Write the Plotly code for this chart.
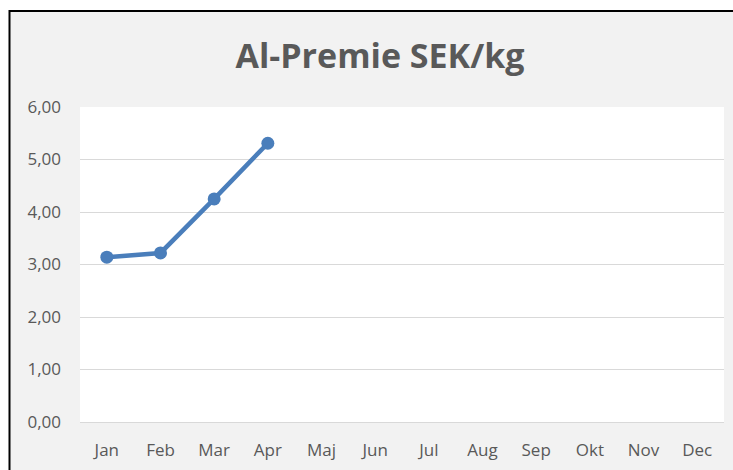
import plotly.graph_objects as go

months = ["Jan", "Feb", "Mar", "Apr", "Maj", "Jun", "Jul", "Aug", "Sep", "Okt", "Nov", "Dec"]
premie = [3.14, 3.22, 4.25, 5.31, None, None, None, None, None, None, None, None]
yticks = [0, 1, 2, 3, 4, 5, 6]

fig = go.Figure()
fig.add_trace(go.Scatter(
    x=months, y=premie, mode="lines+markers",
    line=dict(color="#4a7ebb", width=4.5),
    marker=dict(color="#4a7ebb", size=13),
    connectgaps=False, hoverinfo="skip", showlegend=False,
))

W, H = 733, 470
L, R, T, B = 80, 9, 107, 48
pw, ph = W - L - R, H - T - B

def px2x(px):
    return (px - L) / pw

def py2y(py):
    return (H - B - py) / ph

fig.update_layout(
    width=W, height=H,
    margin=dict(l=L, r=R, t=T, b=B),
    paper_bgcolor="white",
    plot_bgcolor="white",
    separators=",.",
    font=dict(family="Open Sans, Noto Sans, sans-serif", color="#595959", size=17),
    title=dict(text="<b>Al-Premie SEK/kg</b>", x=380 / W, xanchor="center",
               y=1 - 56 / H, yanchor="middle", yref="container",
               font=dict(size=34, color="#595959", family="Open Sans, sans-serif")),
    xaxis=dict(showgrid=False, showline=False, ticks="", zeroline=False,
               tickfont=dict(size=17, color="#595959"), ticklabelstandoff=16,
               range=[-0.5, 11.5]),
    yaxis=dict(range=[0, 6], tickvals=yticks, tickformat=".2f",
               showgrid=True, gridcolor="#d9d9d9", gridwidth=1,
               zeroline=True, zerolinecolor="#d9d9d9", zerolinewidth=1,
               showline=False, ticks="", ticklabelstandoff=18,
               tickfont=dict(size=17, color="#595959")),
    shapes=[
        dict(type="rect", xref="paper", yref="paper", layer="below",
             x0=px2x(9.5), x1=px2x(745), y0=py2y(480), y1=py2y(11),
             fillcolor="#f2f2f2", line=dict(color="black", width=2)),
        dict(type="rect", xref="paper", yref="paper", layer="below",
             x0=0, x1=1, y0=0, y1=1, fillcolor="white", line=dict(width=0)),
    ],
)

fig.write_html("out.html", config={"displayModeBar": False},
               post_script="document.body.style.margin='0';document.body.style.overflow='hidden';")
